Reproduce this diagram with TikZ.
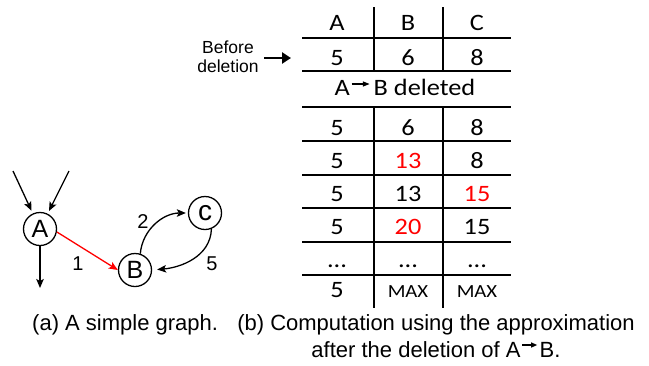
\documentclass[tikz,border=0pt]{standalone}
\usepackage{fontspec}
\usepackage{graphicx}
\setmainfont{Liberation Sans}
\newfontfamily\tabfont{Carlito}
\usetikzlibrary{arrows.meta}
\newcommand\tc[1]{\scalebox{1.12}[1]{#1}}
\newcommand\myarrow[3]{\tikz[baseline=0pt,x=1pt,y=1pt]\draw[line width=#3,-{Triangle[length=6pt,width=5pt]}] (0,#2) -- (#1,#2);}
\begin{document}
\begin{tikzpicture}[x=1pt,y=-1pt,
  tabcell/.style={font=\tabfont\fontsize{23.5}{28}\selectfont, anchor=base, inner sep=0pt},
  tabsmall/.style={font=\tabfont\fontsize{18.5}{22}\selectfont, anchor=base, inner sep=0pt},
  tabrule/.style={line width=1.5pt},
  vertex/.style={circle, draw, line width=1.3pt, minimum size=33pt, inner sep=0pt, font=\fontsize{25}{28}\selectfont},
  conn/.style={line width=1.3pt, -{Stealth[length=9pt,width=7.5pt,inset=2pt]}},
  elabel/.style={font=\fontsize{20}{22}\selectfont, inner sep=0pt},
  captext/.style={font=\fontsize{22}{27}\selectfont, inner sep=0pt}]
\useasboundingbox (0,0) rectangle (649,365);

% ---------- table rules
\foreach \y in {38,71,107,141,175,208,242,275}
  \draw[tabrule] (302,\y) -- (511,\y);
\foreach \x in {374,443} {
  \draw[tabrule] (\x,7) -- (\x,71);
  \draw[tabrule] (\x,107) -- (\x,308);
}

% ---------- table cells
\node[tabcell] (hA) at (337,30) {\tc{A}};
\node[tabcell] (hB) at (408,30) {\tc{B}};
\node[tabcell] (hC) at (477,30) {\tc{C}};

\node[tabcell] (r0A) at (337,65) {\tc{5}};
\node[tabcell] (r0B) at (408,65) {\tc{6}};
\node[tabcell] (r0C) at (477,65) {\tc{8}};

\node[tabcell] (del) at (405,95) {\tc{A\hspace{1pt}\myarrow{16}{11}{1.2pt}\hspace{3pt}B deleted}};

\node[tabcell] (r1A) at (337,135) {\tc{5}};
\node[tabcell] (r1B) at (408,135) {\tc{6}};
\node[tabcell] (r1C) at (477,135) {\tc{8}};

\node[tabcell] (r2A) at (337,168) {\tc{5}};
\node[tabcell,text=red] (r2B) at (408,168) {\tc{13}};
\node[tabcell] (r2C) at (477,168) {\tc{8}};

\node[tabcell] (r3A) at (337,201) {\tc{5}};
\node[tabcell] (r3B) at (408,201) {\tc{13}};
\node[tabcell,text=red] (r3C) at (477,201) {\tc{15}};

\node[tabcell] (r4A) at (337,234) {\tc{5}};
\node[tabcell,text=red] (r4B) at (408,234) {\tc{20}};
\node[tabcell] (r4C) at (477,234) {\tc{15}};

\node[tabcell] (r5A) at (337,267) {\tc{...}};
\node[tabcell] (r5B) at (408,267) {\tc{...}};
\node[tabcell] (r5C) at (477,267) {\tc{...}};

\node[tabcell] (r6A) at (337,297) {\tc{5}};
\node[tabsmall] (r6B) at (408,297) {\tc{MAX}};
\node[tabsmall] (r6C) at (477,297) {\tc{MAX}};

% ---------- before deletion
\node[font=\fontsize{17.5}{19}\selectfont, align=center, inner sep=0pt, anchor=base] (before) at (228,72) {Before\\deletion};
\coordinate (beforetip) at (291,58);
\coordinate (beforestart) at (264,58);
\draw[line width=2.6pt, -{Triangle[length=9pt,width=11pt]}] (beforestart) -- (beforetip);

% ---------- graph
\node[vertex] (A) at (40,229) {A};
\node[vertex] (B) at (135,270) {B};
\node[vertex, font=\fontsize{28}{30}\selectfont] (C) at (205,213) {c};

\coordinate (in1) at (13,171);
\coordinate (in2) at (69,171);
\coordinate (out) at (40,288);
\draw[conn, shorten >=3pt] (in1) -- (A);
\draw[conn, shorten >=3pt] (in2) -- (A);
\draw[conn] (A) -- (out);
\draw[conn, red] (A.-10) -- (B.180);
\draw[conn, shorten >=2pt] (B.72) to[out=85,in=180] (C.west);
\draw[conn, shorten >=5pt] (C.-68) to[out=-92,in=5] (B.east);

\node[elabel] (l1) at (78,264) {1};
\node[elabel] (l2) at (143,222) {2};
\node[elabel] (l5) at (212,264) {5};

% ---------- captions
\node[captext, anchor=base west] (capa) at (32,330) {(a) A simple graph.};
\node[captext, anchor=base, align=center] (capb) at (436,357) {(b) Computation using the approximation\\after the deletion of A\hspace{1pt}\myarrow{15}{12}{1.1pt}\hspace{2pt}B.};
\end{tikzpicture}
\end{document}
